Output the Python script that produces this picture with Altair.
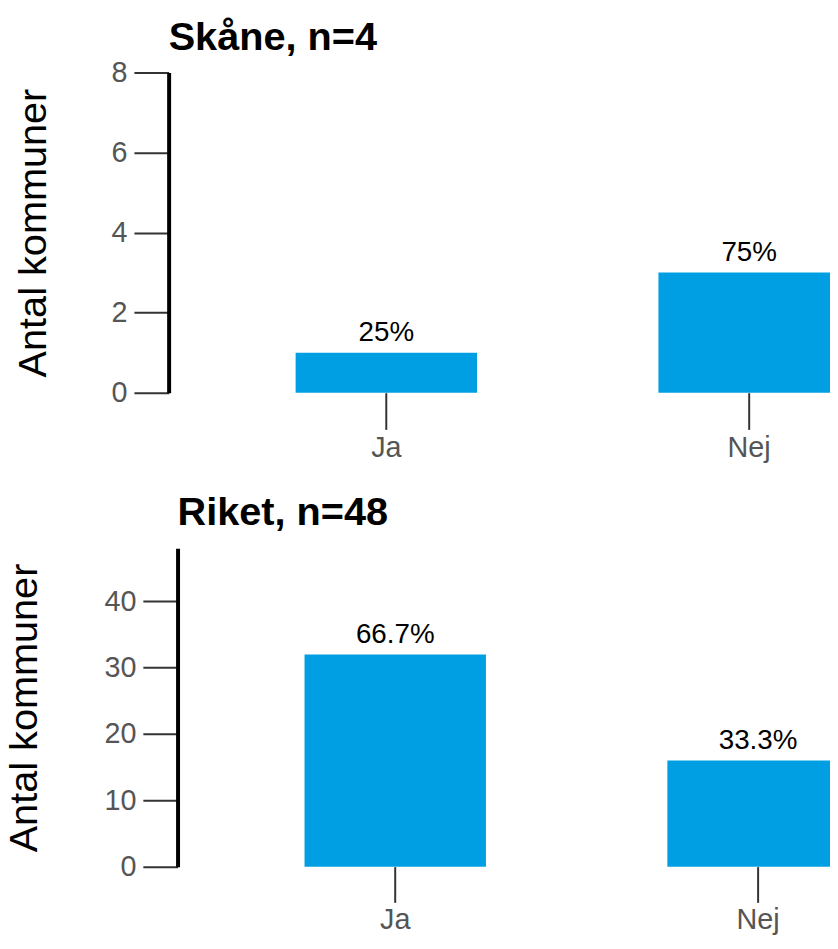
import altair as alt
import pandas as pd

categories = ["Ja", "Nej"]
skane_counts = [1, 3]
riket_counts = [32, 16]
skane_n = 4
riket_n = 48
skane_ticks = [0, 2, 4, 6, 8]
riket_ticks = [0, 10, 20, 30, 40]
skane_max = 8
riket_max = 48
titles = ["Skåne, n=4", "Riket, n=48"]

FONT = "Liberation Sans"


def fmt(c, n):
    p = round(100 * c / n, 1)
    return f"{p:g}%"


def panel(title, counts, n, ticks, ymax, height, shift, tpad, xtick, xlpad, toff):
    df = pd.DataFrame({
        "svar": categories,
        "antal": counts,
        "andel": [fmt(c, n) for c in counts],
    })
    base = alt.Chart(df).encode(
        x=alt.X(
            "svar:N", sort=categories, title=None,
            scale=alt.Scale(paddingInner=0.5, paddingOuter=0.35,
                            range=[-shift, 805 - shift]),
            axis=alt.Axis(labelAngle=0, domain=False, grid=False, tickSize=xtick,
                          tickColor="#333333", tickWidth=2, labelColor="#555555",
                          labelFontSize=29, labelPadding=xlpad, labelFont=FONT),
        ),
        y=alt.Y(
            "antal:Q", title="Antal kommuner",
            scale=alt.Scale(domain=[0, ymax], nice=False),
            axis=alt.Axis(values=ticks, grid=False, domainColor="black", domainWidth=4,
                          offset=shift,
                          tickSize=35, tickColor="#333333", tickWidth=2,
                          labelColor="#555555", labelFontSize=29, labelPadding=7,
                          labelFont=FONT, titleFont=FONT, titleFontSize=40,
                          titleFontWeight="normal", titleColor="black", titlePadding=tpad),
        ),
    )
    bars = base.mark_bar(color="#009fe3")
    text = base.mark_text(baseline="bottom", dy=-6, fontSize=28, color="black",
                          font=FONT).encode(text="andel:N")
    return alt.layer(bars, text).properties(
        width=805, height=height,
        title=alt.TitleParams(title, anchor="start", frame="group", fontSize=40,
                              fontWeight="bold", font=FONT, color="black", offset=toff,
                              dx=-shift),
    )


chart = alt.vconcat(
    panel(titles[0], skane_counts, skane_n, skane_ticks, skane_max, 323, 9, 58, 37, 4, 1),
    panel(titles[1], riket_counts, riket_n, riket_ticks, riket_max, 321, 0, 60, 36, 3, 16),
    spacing=31,
).configure_view(stroke=None).properties(
    padding={"left": -4, "top": 6, "right": -147, "bottom": 0}
)

chart.save("out.html", embed_options={"renderer": "svg", "actions": False})
